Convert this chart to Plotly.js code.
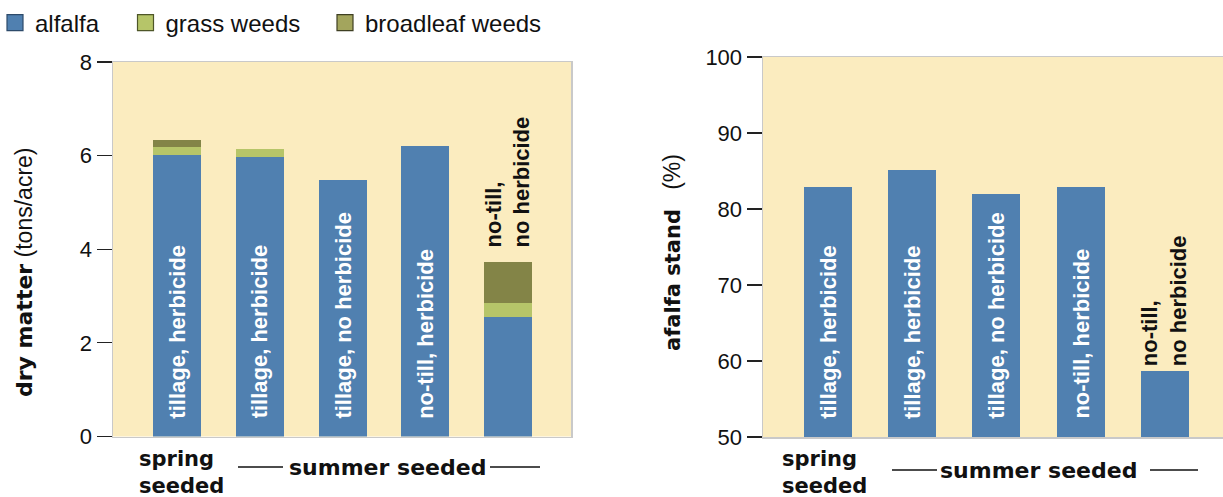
<!DOCTYPE html>
<html>
<head>
<meta charset="utf-8">
<script src="https://cdn.plot.ly/plotly-3.0.1.min.js"></script>
<style>
  html, body { margin: 0; padding: 0; background: #ffffff; }
  #chart { width: 1223px; height: 497px; }
</style>
</head>
<body>
<div id="chart"></div>
<script>
// ---------------- data ----------------
const treatments = ["tillage, herbicide", "tillage, herbicide", "tillage, no herbicide", "no-till, herbicide", "no-till, no herbicide"];
const seriesNames = ["alfalfa", "grass weeds", "broadleaf weeds"];
// left chart: dry matter (tons/acre)
const dmAlfalfa   = [6.01, 5.97, 5.48, 6.21, 2.55];
const dmGrass     = [0.17, 0.17, 0.00, 0.00, 0.30];
const dmBroadleaf = [0.15, 0.00, 0.00, 0.00, 0.88];
// right chart: alfalfa stand (%)
const standValues = [82.9, 85.1, 82.0, 82.9, 58.7];
const dmTicks = [0, 2, 4, 6, 8];
const standTicks = [50, 60, 70, 80, 90, 100];
const groupLabels = ["spring<br>seeded", "summer seeded"];
const leftTitle = ["dry matter", "(tons/acre)"];
const rightTitle = ["afalfa stand", "(%)"];

// ---------------- styling ----------------
const W = 1223, H = 497;
const px = x => x / W;
const py = y => 1 - y / H;
const barColors = ["#5080b0", "#b6c569", "#838447"];
const legendFill = ["#5080b0", "#b6c569", "#a3a55d"];
const legendLine = ["#2d4a6a", "#4e5628", "#3e3f22"];
const BG = "#fbecbf";
const BORDER = "#c9c9c9";
const SANS = "Liberation Sans, Arial, sans-serif";
const HEAVY = "DejaVu Sans, sans-serif";
const idx = treatments.map((_, i) => i);

const traces = [];
const dmSeries = [dmAlfalfa, dmGrass, dmBroadleaf];
dmSeries.forEach((vals, s) => {
  traces.push({
    type: "bar", x: idx, y: vals, xaxis: "x", yaxis: "y",
    name: seriesNames[s], showlegend: false, hoverinfo: "skip",
    width: 0.578, marker: { color: barColors[s], line: { width: 0 } }
  });
});
traces.push({
  type: "bar", x: idx, y: standValues, xaxis: "x2", yaxis: "y2",
  name: seriesNames[0], showlegend: false, hoverinfo: "skip",
  width: 0.57, base: 0, marker: { color: barColors[0], line: { width: 0 } }
});
// legend entries
const legendIds = ["legend", "legend2", "legend3"];
seriesNames.forEach((n, s) => {
  traces.push({
    type: "scatter", mode: "markers", x: [null], y: [null], xaxis: "x", yaxis: "y",
    name: n, legend: legendIds[s], showlegend: true, hoverinfo: "skip",
    marker: { symbol: "square", size: 16, color: legendFill[s], line: { color: legendLine[s], width: 1.2 } }
  });
});

const annotations = [];
const dmTotals = idx.map(i => dmAlfalfa[i] + dmGrass[i] + dmBroadleaf[i]);
function barLabels(xref, yref, base, totals, outsideShift) {
  treatments.forEach((t, i) => {
    const inside = i < treatments.length - 1;
    if (inside) {
      annotations.push({
        xref, yref, x: i, y: base, text: t, showarrow: false, textangle: -90,
        xanchor: "center", yanchor: "bottom", yshift: 16,
        font: { family: SANS, size: 22, color: "#ffffff", weight: "bold" }
      });
    } else {
      annotations.push({
        xref, yref, x: i, y: totals[i], text: t.replace(", ", ",<br>"), showarrow: false, textangle: -90,
        xanchor: "center", yanchor: "bottom", yshift: outsideShift, align: "left",
        font: { family: SANS, size: 22, color: "#111111", weight: "bold" }
      });
    }
  });
}
barLabels("x", "y", 0, dmTotals, 12);
barLabels("x2", "y2", 50, standValues, 3);

function ann(text, x, y, font, extra) {
  annotations.push(Object.assign({ xref: "paper", yref: "paper", x: px(x), y: py(y), text, showarrow: false, xanchor: "center", yanchor: "middle", font }, extra || {}));
}
// axis titles: bold heavy part + regular unit part, one rotated line each
const heavySpan = (t, size) => '<span style="font-family:DejaVu Sans;font-weight:bold;font-size:' + size + 'px">' + t + '</span>';
ann(heavySpan(leftTitle[0], 22) + "&nbsp;" + leftTitle[1], 24, 272, { family: SANS, size: 23, color: "#111" }, { textangle: -90 });
ann(heavySpan(rightTitle[0], 21) + "&nbsp;&nbsp;&nbsp;" + rightTitle[1], 672, 252, { family: SANS, size: 23, color: "#111" }, { textangle: -90 });

// group labels
const grpFont = { family: HEAVY, size: 21, color: "#111", weight: "bold" };
const grpFont2 = { family: HEAVY, size: 22, color: "#111", weight: "bold" };
ann(groupLabels[0], 137, 472, grpFont, { xanchor: "left", align: "left" });
ann(groupLabels[1], 387, 467, grpFont2);
ann(groupLabels[0], 780, 472, grpFont, { xanchor: "left", align: "left" });
ann(groupLabels[1], 1038, 470, grpFont2);

const shapes = [];
function hline(x0, x1, y) {
  shapes.push({ type: "line", xref: "paper", yref: "paper", x0: px(x0), x1: px(x1), y0: py(y), y1: py(y), line: { color: "#111", width: 1.3 } });
}
hline(238, 283, 467); hline(490, 540, 467);
hline(892, 937, 470); hline(1150, 1198, 470);

const tickFont = { family: SANS, size: 22, color: "#111" };
const legFont = { family: SANS, size: 24, color: "#111" };
const layout = {
  width: W, height: H,
  margin: { l: 0, r: 0, t: 0, b: 0, autoexpand: false },
  paper_bgcolor: "#ffffff", plot_bgcolor: BG,
  barmode: "stack", bargap: 0, hovermode: false,
  xaxis: { domain: [px(113), px(571)], range: [-0.775, 4.76], showticklabels: false, ticks: "", showgrid: false, zeroline: false,
           showline: true, linecolor: BORDER, linewidth: 1.5, mirror: true, anchor: "y", fixedrange: true },
  yaxis: { domain: [py(436.5), py(62)], range: [0, 8], tickvals: dmTicks, ticks: "outside", ticklen: 15, tickwidth: 1.2, tickcolor: "#222",
           tickfont: tickFont, showgrid: false, zeroline: false, showline: true, linecolor: BORDER, linewidth: 1.5, mirror: true, anchor: "x", fixedrange: true },
  xaxis2: { domain: [px(763), 1], range: [-0.77, 4.69], showticklabels: false, ticks: "", showgrid: false, zeroline: false,
            showline: true, linecolor: BORDER, linewidth: 1.5, mirror: true, anchor: "y2", fixedrange: true },
  yaxis2: { domain: [py(437), py(57)], range: [50, 100], tickvals: standTicks, ticks: "outside", ticklen: 15, tickwidth: 1.2, tickcolor: "#222",
            tickfont: tickFont, showgrid: false, zeroline: false, showline: true, linecolor: BORDER, linewidth: 1.5, mirror: false, anchor: "x2", fixedrange: true },
  legend:  { orientation: "h", x: px(-5),    xanchor: "left", y: py(23), yanchor: "middle", font: legFont, bgcolor: "rgba(0,0,0,0)" },
  legend2: { orientation: "h", x: px(125.5), xanchor: "left", y: py(23), yanchor: "middle", font: legFont, bgcolor: "rgba(0,0,0,0)" },
  legend3: { orientation: "h", x: px(325),   xanchor: "left", y: py(23), yanchor: "middle", font: legFont, bgcolor: "rgba(0,0,0,0)" },
  annotations, shapes,
  font: { family: SANS, color: "#111" }
};

Plotly.newPlot("chart", traces, layout, { displayModeBar: false, staticPlot: true });
</script>
</body>
</html>
